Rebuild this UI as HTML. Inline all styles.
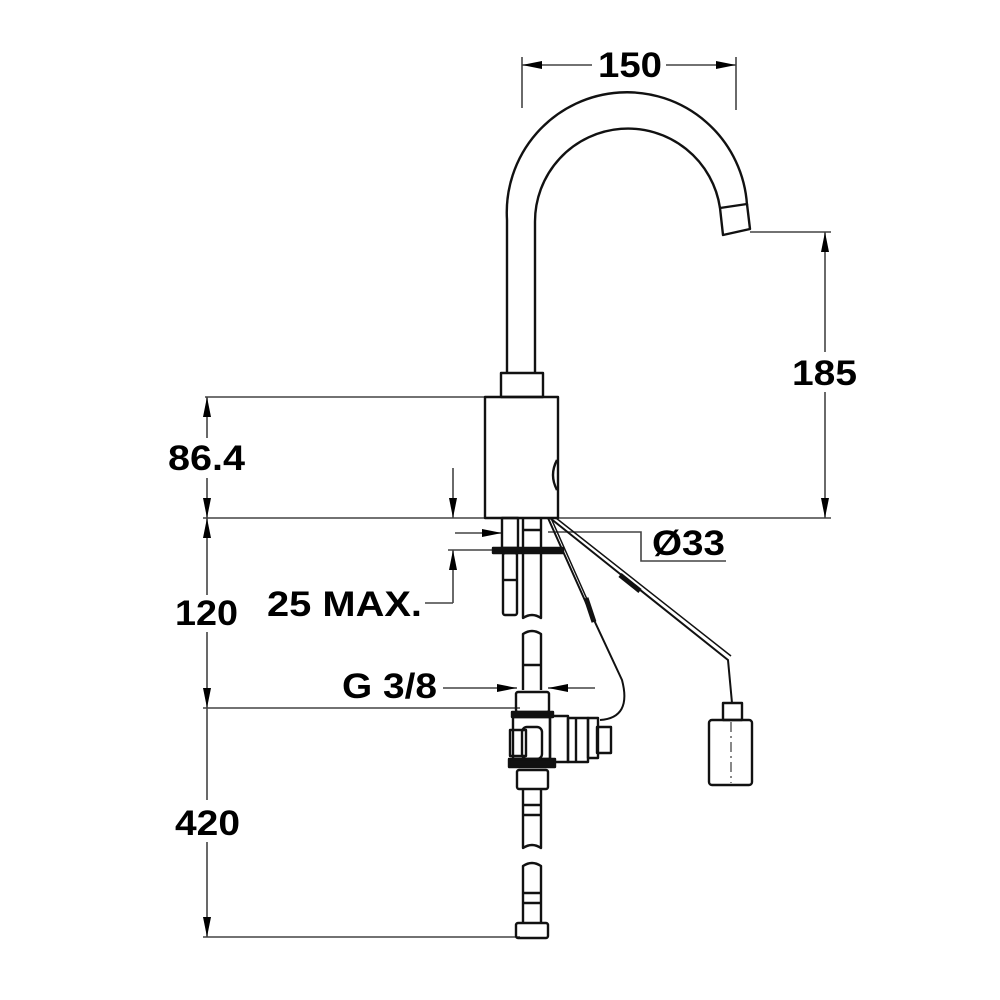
<!DOCTYPE html>
<html><head><meta charset="utf-8"><style>html,body{margin:0;padding:0;background:#fff}svg{display:block}</style></head>
<body>
<svg width="1000" height="1000" viewBox="0 0 1000 1000" xmlns="http://www.w3.org/2000/svg">
<defs>
<marker id="a" viewBox="0 0 20 8" refX="20" refY="4" markerWidth="20" markerHeight="8" markerUnits="userSpaceOnUse" orient="auto-start-reverse"><path d="M0,0 L20,4 L0,8 Z" fill="#000"/></marker>
</defs>
<rect width="1000" height="1000" fill="#fff"/>
<g stroke="#444" stroke-width="1.6" fill="none">
<line x1="522" y1="57" x2="522" y2="108"/>
<line x1="736" y1="57" x2="736" y2="110"/>
<line x1="750" y1="232" x2="831" y2="232"/>
<line x1="205" y1="397" x2="485" y2="397"/>
<line x1="203" y1="518" x2="831" y2="518"/>
<line x1="203" y1="708" x2="520" y2="708"/>
<line x1="203" y1="937" x2="520" y2="937"/>
<line x1="522" y1="65" x2="592" y2="65" marker-start="url(#a)"/>
<line x1="666" y1="65" x2="736" y2="65" marker-end="url(#a)"/>
<line x1="825" y1="232" x2="825" y2="352" marker-start="url(#a)"/>
<line x1="825" y1="392" x2="825" y2="518" marker-end="url(#a)"/>
<line x1="207" y1="397" x2="207" y2="438" marker-start="url(#a)"/>
<line x1="207" y1="478" x2="207" y2="518" marker-end="url(#a)"/>
<line x1="207" y1="518" x2="207" y2="595" marker-start="url(#a)"/>
<line x1="207" y1="632" x2="207" y2="708" marker-end="url(#a)"/>
<line x1="207" y1="708" x2="207" y2="800" />
<line x1="207" y1="842" x2="207" y2="937" marker-end="url(#a)"/>
<line x1="453" y1="468" x2="453" y2="518" marker-end="url(#a)"/>
<line x1="453" y1="550" x2="453" y2="603" marker-start="url(#a)"/>
<polyline points="453,603 425,603"/>
<line x1="448" y1="550" x2="493" y2="550"/>
<line x1="455" y1="533" x2="502" y2="533" marker-end="url(#a)"/>
<line x1="443" y1="688" x2="517" y2="688" marker-end="url(#a)"/>
<line x1="595" y1="688" x2="548" y2="688" marker-end="url(#a)"/>
<polyline points="548,532 641,532 641,561 726,561"/>
</g>
<g stroke="#111" stroke-width="2.4" fill="none" stroke-linejoin="round">
<path d="M507,373 L507,220 A120,120 0 0 1 747,205"/>
<path d="M535,373 L535,222 A93,93 0 0 1 720,208"/>
<polygon points="720,208 747,204 750,229 723,235"/>
<rect x="501" y="373" width="42" height="24"/>
<rect x="485" y="397" width="73" height="121"/>
<path d="M557,460 Q549,475 557,490"/>
<rect x="493" y="548" width="70" height="5" fill="#111"/>
<rect x="502" y="518" width="16" height="30"/>
<rect x="503" y="553" width="14" height="62" rx="2"/>
<line x1="503" y1="580" x2="517" y2="580"/>
<path d="M523,518 L523,618 Q532,612 541,618 L541,518"/>
<line x1="523" y1="530" x2="541" y2="530"/>
<path d="M523,690 L523,634 Q532,628 541,634 L541,690"/>
<line x1="523" y1="665" x2="541" y2="665"/>
<path d="M548,518 L587,605 L622,680 Q632,718 600,720" stroke-width="2"/>
<path d="M551,518 L590,606" stroke-width="1.5"/>
<path d="M586,598 l8,24" stroke-width="5"/>
<path d="M550,518 L728,660 L732,703" stroke-width="2"/>
<path d="M556,518 L731,656" stroke-width="1.5"/>
<path d="M620,575 l20,16" stroke-width="5"/>
<rect x="723" y="703" width="19" height="17"/>
<rect x="709" y="720" width="43" height="65" rx="3"/>
<line x1="731" y1="722" x2="731" y2="783" stroke-dasharray="10,4,2,4" stroke-width="1"/>
<!-- valve -->
<rect x="516" y="692" width="33" height="20" rx="2"/>
<rect x="512" y="712" width="41" height="5" fill="#111"/>
<rect x="513" y="717" width="37" height="42"/>
<rect x="510" y="730" width="16" height="26"/>
<rect x="522" y="727" width="20" height="32" rx="5"/>
<rect x="550" y="716" width="18" height="46"/>
<rect x="568" y="718" width="20" height="44"/>
<line x1="576" y1="718" x2="576" y2="762"/>
<rect x="588" y="718" width="10" height="40"/>
<rect x="597" y="727" width="14" height="26"/>
<rect x="509" y="759" width="46" height="8" fill="#111"/>
<rect x="517" y="770" width="31" height="19" rx="2"/>
<path d="M523,789 L523,848 Q532,842 541,848 L541,789"/>
<line x1="523" y1="805" x2="541" y2="805"/>
<line x1="523" y1="815" x2="541" y2="815"/>
<path d="M523,923 L523,866 Q532,860 541,866 L541,923"/>
<line x1="523" y1="893" x2="541" y2="893"/>
<line x1="523" y1="903" x2="541" y2="903"/>
<rect x="516" y="923" width="32" height="15" rx="2"/>
</g>
<g font-family="Liberation Sans, sans-serif" font-weight="bold" font-size="35" fill="#000" lengthAdjust="spacingAndGlyphs">
<text x="598" y="77" textLength="64" lengthAdjust="spacingAndGlyphs">150</text>
<text x="792" y="385" textLength="65" lengthAdjust="spacingAndGlyphs">185</text>
<text x="168" y="470" textLength="77" lengthAdjust="spacingAndGlyphs">86.4</text>
<text x="175" y="625" textLength="63" lengthAdjust="spacingAndGlyphs">120</text>
<text x="175" y="835" textLength="65" lengthAdjust="spacingAndGlyphs">420</text>
<text x="267" y="616" textLength="155" lengthAdjust="spacingAndGlyphs">25 MAX.</text>
<text x="342" y="698" textLength="95" lengthAdjust="spacingAndGlyphs">G 3/8</text>
<text x="652" y="555" textLength="73" lengthAdjust="spacingAndGlyphs">Ø33</text>
</g>
</svg>
</body></html>
